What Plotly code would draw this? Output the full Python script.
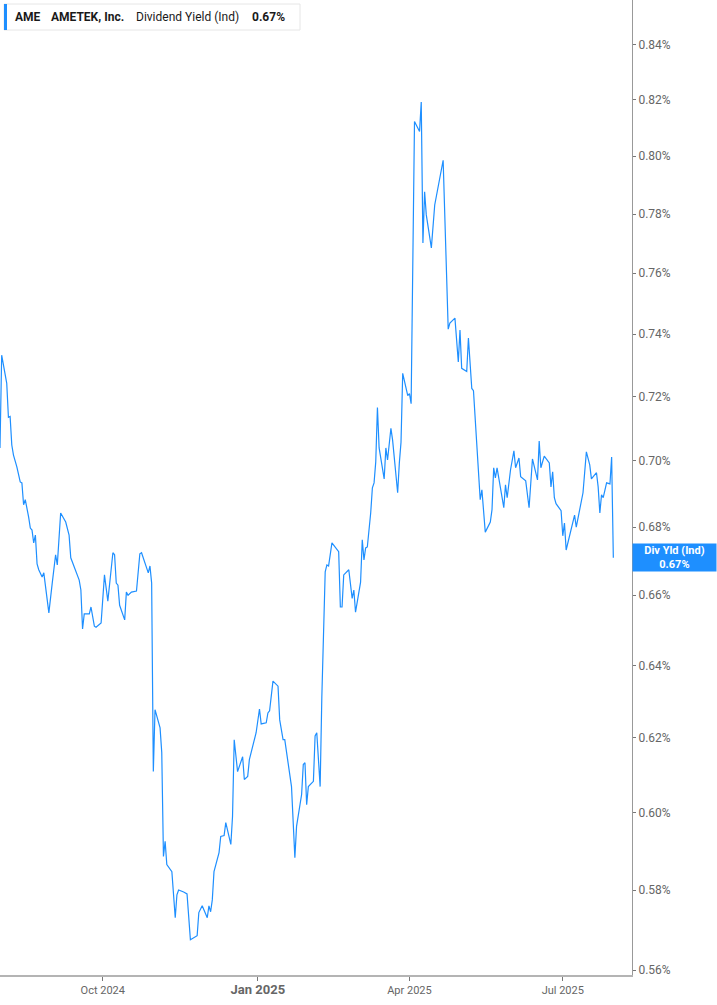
import numpy as np
import plotly.graph_objects as go

# AME dividend yield (indicated), in percent
dates = [
    "2024-08-01", "2024-08-02", "2024-08-05", "2024-08-06", "2024-08-07", "2024-08-08", "2024-08-09",
    "2024-08-11", "2024-08-13", "2024-08-14", "2024-08-15", "2024-08-16", "2024-08-18", "2024-08-19",
    "2024-08-20", "2024-08-21", "2024-08-22", "2024-08-23", "2024-08-24", "2024-08-26", "2024-08-27",
    "2024-08-28", "2024-08-30", "2024-09-01", "2024-09-03", "2024-09-04", "2024-09-06", "2024-09-09",
    "2024-09-11", "2024-09-12", "2024-09-14", "2024-09-17", "2024-09-18", "2024-09-19", "2024-09-20",
    "2024-09-23", "2024-09-24", "2024-09-26", "2024-09-27", "2024-09-30", "2024-10-02", "2024-10-04",
    "2024-10-07", "2024-10-08", "2024-10-09", "2024-10-10", "2024-10-11", "2024-10-14", "2024-10-15",
    "2024-10-16", "2024-10-18", "2024-10-21", "2024-10-23", "2024-10-24", "2024-10-28", "2024-10-29",
    "2024-10-30", "2024-10-31", "2024-11-01", "2024-11-04", "2024-11-05", "2024-11-06", "2024-11-07",
    "2024-11-08", "2024-11-11", "2024-11-13", "2024-11-14", "2024-11-15", "2024-11-18", "2024-11-20",
    "2024-11-22", "2024-11-26", "2024-11-27", "2024-11-29", "2024-12-02", "2024-12-03", "2024-12-04",
    "2024-12-05", "2024-12-06", "2024-12-09", "2024-12-10", "2024-12-12", "2024-12-13", "2024-12-16",
    "2024-12-17", "2024-12-18", "2024-12-20", "2024-12-23", "2024-12-24", "2024-12-26", "2024-12-27",
    "2024-12-31", "2025-01-02", "2025-01-03", "2025-01-06", "2025-01-07", "2025-01-08", "2025-01-10",
    "2025-01-13", "2025-01-14", "2025-01-16", "2025-01-17", "2025-01-21", "2025-01-23", "2025-01-24",
    "2025-01-27", "2025-01-28", "2025-01-29", "2025-01-30", "2025-01-31", "2025-02-03", "2025-02-04",
    "2025-02-05", "2025-02-07", "2025-02-08", "2025-02-10", "2025-02-11", "2025-02-12", "2025-02-14",
    "2025-02-18", "2025-02-19", "2025-02-20", "2025-02-21", "2025-02-24", "2025-02-26", "2025-02-27",
    "2025-02-28", "2025-03-03", "2025-03-04", "2025-03-05", "2025-03-06", "2025-03-07", "2025-03-09",
    "2025-03-10", "2025-03-11", "2025-03-12", "2025-03-13", "2025-03-14", "2025-03-17", "2025-03-18",
    "2025-03-19", "2025-03-21", "2025-03-22", "2025-03-25", "2025-03-26", "2025-03-27", "2025-03-28",
    "2025-03-31", "2025-04-01", "2025-04-02", "2025-04-04", "2025-04-07", "2025-04-08", "2025-04-09",
    "2025-04-10", "2025-04-11", "2025-04-14", "2025-04-16", "2025-04-21", "2025-04-24", "2025-04-25",
    "2025-04-28", "2025-04-30", "2025-05-01", "2025-05-02", "2025-05-05", "2025-05-06", "2025-05-08",
    "2025-05-09", "2025-05-13", "2025-05-14", "2025-05-16", "2025-05-19", "2025-05-20", "2025-05-21",
    "2025-05-22", "2025-05-23", "2025-05-27", "2025-05-28", "2025-05-29", "2025-05-31", "2025-06-02",
    "2025-06-03", "2025-06-05", "2025-06-06", "2025-06-09", "2025-06-11", "2025-06-13", "2025-06-16",
    "2025-06-17", "2025-06-18", "2025-06-20", "2025-06-23", "2025-06-24", "2025-06-25", "2025-06-26",
    "2025-06-27", "2025-06-30", "2025-07-01", "2025-07-02", "2025-07-03", "2025-07-06", "2025-07-08",
    "2025-07-09", "2025-07-11", "2025-07-13", "2025-07-15", "2025-07-17", "2025-07-18", "2025-07-21",
    "2025-07-22", "2025-07-23", "2025-07-24", "2025-07-25", "2025-07-27", "2025-07-29", "2025-07-30",
    "2025-07-31",
]

div_yield = [
    0.7040, 0.7332, 0.7242, 0.7135, 0.7138, 0.7049, 0.7018,
    0.6982, 0.6936, 0.6933, 0.6867, 0.6882, 0.6830, 0.6797,
    0.6791, 0.6753, 0.6776, 0.6691, 0.6674, 0.6653, 0.6665,
    0.6621, 0.6549, 0.6635, 0.6718, 0.6688, 0.6842, 0.6815,
    0.6776, 0.6709, 0.6682, 0.6644, 0.6615, 0.6503, 0.6546,
    0.6546, 0.6566, 0.6511, 0.6508, 0.6520, 0.6659, 0.6583,
    0.6724, 0.6718, 0.6635, 0.6629, 0.6571, 0.6529, 0.6609,
    0.6600, 0.6609, 0.6612, 0.6721, 0.6724, 0.6665, 0.6685,
    0.6635, 0.6109, 0.6277, 0.6227, 0.6160, 0.5886, 0.5925,
    0.5865, 0.5847, 0.5730, 0.5788, 0.5800, 0.5795, 0.5790,
    0.5675, 0.5685, 0.5743, 0.5760, 0.5730, 0.5760, 0.5745,
    0.5775, 0.5847, 0.5896, 0.5938, 0.5940, 0.5974, 0.5917,
    0.5990, 0.6195, 0.6109, 0.6149, 0.6088, 0.6096, 0.6141,
    0.6214, 0.6279, 0.6238, 0.6241, 0.6268, 0.6274, 0.6356,
    0.6342, 0.6249, 0.6195, 0.6195, 0.6069, 0.5883, 0.5964,
    0.6048, 0.6128, 0.6133, 0.6021, 0.6069, 0.6083, 0.6205,
    0.6214, 0.6069, 0.6312, 0.6668, 0.6688, 0.6685, 0.6753,
    0.6727, 0.6566, 0.6566, 0.6659, 0.6674, 0.6591, 0.6615,
    0.6551, 0.6638, 0.6762, 0.6703, 0.6738, 0.6741, 0.6842,
    0.6918, 0.6933, 0.6997, 0.7166, 0.7040, 0.6945, 0.7040,
    0.7003, 0.7101, 0.7064, 0.6903, 0.6994, 0.7058, 0.7274,
    0.7203, 0.7210, 0.7178, 0.8123, 0.8087, 0.8192, 0.7702,
    0.7876, 0.7797, 0.7685, 0.7831, 0.7986, 0.7416, 0.7436,
    0.7452, 0.7310, 0.7413, 0.7290, 0.7280, 0.7387, 0.7226,
    0.7219, 0.6882, 0.6912, 0.6785, 0.6815, 0.6852, 0.6979,
    0.6948, 0.6979, 0.6858, 0.6927, 0.6888, 0.6973, 0.7031,
    0.6979, 0.7009, 0.6952, 0.6939, 0.6858, 0.7006, 0.6942,
    0.7061, 0.6979, 0.7015, 0.6994, 0.6921, 0.6967, 0.6888,
    0.6870, 0.6849, 0.6774, 0.6812, 0.6732, 0.6791, 0.6836,
    0.6800, 0.6852, 0.6903, 0.7028, 0.6988, 0.6945, 0.6964,
    0.6921, 0.6842, 0.6897, 0.6888, 0.6933, 0.6930, 0.7012,
    0.6709,
]

y_ticks = [0.56, 0.58, 0.60, 0.62, 0.64, 0.66, 0.68, 0.70, 0.72, 0.74, 0.76, 0.78, 0.80, 0.82, 0.84]
x_ticks = ["2024-10-01", "2025-01-01", "2025-04-01", "2025-07-01"]
x_labels = ["Oct 2024", "<span style='font-size:13px'><b>Jan 2025</b></span>", "Apr 2025", "Jul 2025"]

BLUE = "#1e8fff"
W, H = 717, 1005
ML, MR, MT, MB = 0, 85, 0, 30
PW, PH = W - ML - MR, H - MT - MB

def px(x):  # pixel -> paper x
    return (x - ML) / PW

def py(y):  # pixel -> paper y
    return 1 - (y - MT) / PH

fig = go.Figure()
fig.add_trace(go.Scatter(x=dates, y=div_yield, mode="lines",
                         line=dict(color=BLUE, width=1.2), hoverinfo="skip"))

fig.update_layout(
    width=W, height=H,
    margin=dict(l=ML, r=MR, t=MT, b=MB),
    paper_bgcolor="white", plot_bgcolor="white",
    showlegend=False,
    font=dict(family="Roboto, Arial, sans-serif"),
)

fig.update_xaxes(
    type="date", range=["2024-08-01", "2025-08-11 02:00"],
    tickvals=x_ticks, ticktext=x_labels,
    showgrid=False, zeroline=False,
    showline=True, linecolor="#b4b4b4", linewidth=2,
    ticks="outside", ticklen=4, tickcolor="#777", tickwidth=1,
    tickfont=dict(size=11, color="#666"),
)

fig.update_yaxes(
    type="log", side="right",
    range=[np.log10(0.5588), np.log10(0.8567)],
    tickvals=y_ticks, ticktext=["%.2f%%" % v for v in y_ticks],
    showgrid=False, zeroline=False,
    showline=True, linecolor="#999", linewidth=1,
    ticks="outside", ticklen=3, tickcolor="#777", tickwidth=1,
    tickfont=dict(size=12, color="#666"),
)

# header box, top-left
fig.add_shape(type="rect", xref="paper", yref="paper",
              x0=px(4), x1=px(300), y0=py(30), y1=py(4),
              line=dict(color="#e6e6e6", width=1), fillcolor="white", layer="above")
fig.add_shape(type="rect", xref="paper", yref="paper",
              x0=px(4), x1=px(7), y0=py(30), y1=py(4),
              line=dict(width=0), fillcolor=BLUE, layer="above")

last = div_yield[-1]
header = [("<b>AME</b>", 13), ("<b>AMETEK, Inc.</b>", 49), ("Dividend Yield (Ind)", 134),
          ("<b>%.2f%%</b>" % last, 250)]
for txt, x in header:
    fig.add_annotation(text=txt, xref="paper", yref="paper", x=px(x), y=py(17),
                       xanchor="left", yanchor="middle", showarrow=False,
                       font=dict(size=12, color="#1a1a1a"))

# last-value tag on the right axis
fig.add_annotation(text="<b>Div Yld (Ind)</b><br><b>%.2f%%</b>" % last,
                   xref="paper", yref="y", x=px(632), y=np.log10(last),
                   xanchor="left", yanchor="middle", showarrow=False,
                   bgcolor=BLUE, width=79, height=23, borderpad=2,
                   font=dict(size=11, color="white"))

# drop the browser's default 8px body margin so the figure sits at the page corner
fig.write_html("out.html", config={"displayModeBar": False},
               post_script="document.body.style.margin='0';")
